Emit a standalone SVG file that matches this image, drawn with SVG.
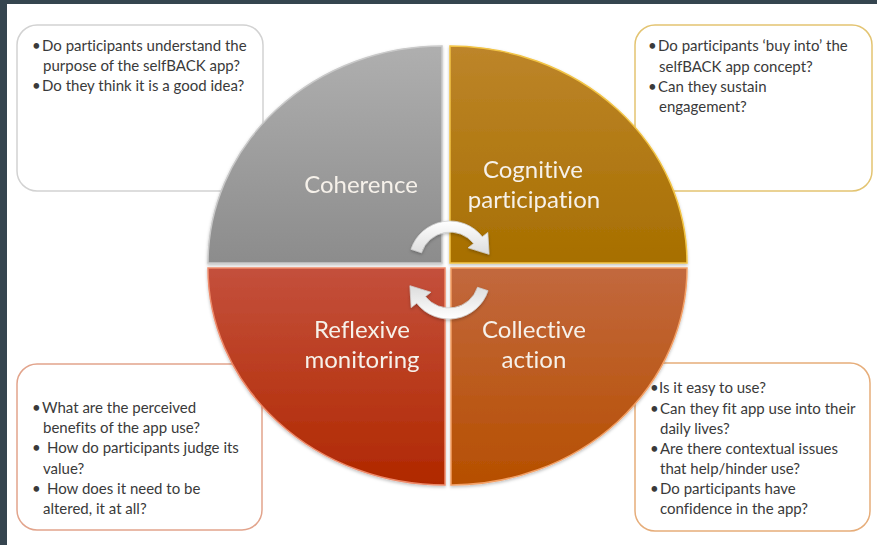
<svg xmlns="http://www.w3.org/2000/svg" width="877" height="545" viewBox="0 0 877 545">
  <defs>
    <style>
      .box { fill: #ffffff; stroke-width: 1.5; }
      .q-label { font-family: "Lato", "Liberation Sans", sans-serif; font-size: 24px; fill: #f6f1ea; text-anchor: middle; font-variant-ligatures: none; font-feature-settings: "liga" 0; }
      .note { font-family: "Lato", "Liberation Sans", sans-serif; font-size: 15px; fill: #3a3a3a; font-variant-ligatures: none; font-feature-settings: "liga" 0; }
      .arrow { fill: url(#arrowFill); stroke: #cfcfcf; stroke-width: 0.8; }
    </style>
    <linearGradient id="gGray" x1="0" y1="0" x2="0" y2="1">
      <stop offset="0" stop-color="#afafaf"/>
      <stop offset="1" stop-color="#8c8c8c"/>
    </linearGradient>
    <linearGradient id="gGold" x1="0" y1="0" x2="0" y2="1">
      <stop offset="0" stop-color="#bd852a"/>
      <stop offset="1" stop-color="#a76f00"/>
    </linearGradient>
    <linearGradient id="gRed" x1="0" y1="0" x2="0" y2="1">
      <stop offset="0" stop-color="#c4503c"/>
      <stop offset="1" stop-color="#b02800"/>
    </linearGradient>
    <linearGradient id="gOrange" x1="0" y1="0" x2="0" y2="1">
      <stop offset="0" stop-color="#c2683e"/>
      <stop offset="1" stop-color="#b64f00"/>
    </linearGradient>
    <linearGradient id="arrowFill" x1="0" y1="0" x2="0" y2="1">
      <stop offset="0" stop-color="#ffffff"/>
      <stop offset="1" stop-color="#dcdcdc"/>
    </linearGradient>
    <filter id="soft" x="-10%" y="-10%" width="120%" height="125%">
      <feDropShadow dx="0" dy="1.5" stdDeviation="1.5" flood-color="#000000" flood-opacity="0.25"/>
    </filter>
  </defs>

  <!-- page -->
  <rect x="0" y="0" width="877" height="545" fill="#ffffff"/>
  <rect x="0" y="0" width="877" height="4" fill="#35454f"/>
  <rect x="0" y="0" width="7" height="545" fill="#35454f"/>

  <!-- question boxes -->
  <g id="box-coherence">
    <rect class="box" x="17" y="25" width="246" height="166" rx="20" stroke="#d2d2d2"/>
    <text class="note" x="32" y="51">•</text>
    <text class="note" x="42" y="51">Do participants understand the</text>
    <text class="note" x="43" y="71">purpose of the selfBACK app?</text>
    <text class="note" x="32" y="91">•</text>
    <text class="note" x="42" y="91">Do they think it is a good idea?</text>
  </g>

  <g id="box-cognitive">
    <rect class="box" x="635" y="25" width="237" height="166" rx="20" stroke="#e3c472"/>
    <text class="note" x="648" y="51">•</text>
    <text class="note" x="658" y="51">Do participants ‘buy into’ the</text>
    <text class="note" x="659" y="72">selfBACK app concept?</text>
    <text class="note" x="648" y="92">•</text>
    <text class="note" x="658" y="92">Can they sustain</text>
    <text class="note" x="659" y="112">engagement?</text>
  </g>

  <g id="box-reflexive">
    <rect class="box" x="17" y="364" width="245" height="166" rx="20" stroke="#e2a48c"/>
    <text class="note" x="32" y="413">•</text>
    <text class="note" x="42" y="413">What are the perceived</text>
    <text class="note" x="43" y="433">benefits of the app use?</text>
    <text class="note" x="32" y="453">•</text>
    <text class="note" x="47" y="453">How do participants judge its</text>
    <text class="note" x="43" y="474">value?</text>
    <text class="note" x="32" y="494">•</text>
    <text class="note" x="47" y="494">How does it need to be</text>
    <text class="note" x="43" y="514">altered, it at all?</text>
  </g>

  <g id="box-collective">
    <rect class="box" x="635" y="363" width="235" height="168" rx="20" stroke="#e6ad7a"/>
    <text class="note" x="650" y="393">•</text>
    <text class="note" x="659" y="393">Is it easy to use?</text>
    <text class="note" x="650" y="414">•</text>
    <text class="note" x="660" y="414">Can they fit app use into their</text>
    <text class="note" x="660" y="434">daily lives?</text>
    <text class="note" x="650" y="454">•</text>
    <text class="note" x="660" y="454">Are there contextual issues</text>
    <text class="note" x="660" y="474">that help/hinder use?</text>
    <text class="note" x="650" y="494">•</text>
    <text class="note" x="660" y="494">Do participants have</text>
    <text class="note" x="660" y="514">confidence in the app?</text>
  </g>

  <!-- quadrants of the cycle -->
  <g id="q-coherence" filter="url(#soft)">
    <path d="M 442 263 L 208 263 A 234 217 0 0 1 442 46 Z" fill="url(#gGray)" stroke="#c9c9c9" stroke-width="1.5"/>
    <text class="q-label" x="361" y="193">Coherence</text>
  </g>
  <g id="q-cognitive" filter="url(#soft)">
    <path d="M 450 263 L 450 46 A 237 217 0 0 1 687 263 Z" fill="url(#gGold)" stroke="#f2c445" stroke-width="1.5"/>
    <text class="q-label" x="533" y="178">Cognitive</text>
    <text class="q-label" x="534" y="208">participation</text>
  </g>
  <g id="q-reflexive" filter="url(#soft)">
    <path d="M 445 268 L 445 485 A 237 217 0 0 1 208 268 Z" fill="url(#gRed)" stroke="#ee8a6a" stroke-width="1.5"/>
    <text class="q-label" x="362" y="338">Reflexive</text>
    <text class="q-label" x="362" y="368">monitoring</text>
  </g>
  <g id="q-collective" filter="url(#soft)">
    <path d="M 451 268 L 687 268 A 236 217 0 0 1 451 485 Z" fill="url(#gOrange)" stroke="#f3a066" stroke-width="1.5"/>
    <text class="q-label" x="534" y="338">Collective</text>
    <text class="q-label" x="534" y="368">action</text>
  </g>

  <!-- cycle arrows -->
  <g id="connectors" filter="url(#soft)">
    <path class="arrow" d="M 411 249.3 A 41 41 0 0 1 482.3 236.8 L 487.8 232.4 L 489.1 254.3 L 468.1 247.8 L 473.6 243.5 A 30 30 0 0 0 421.5 252.7 Z"/>
    <path class="arrow" transform="rotate(180 449.5 270)" d="M 411 249.3 A 41 41 0 0 1 482.3 236.8 L 487.8 232.4 L 489.1 254.3 L 468.1 247.8 L 473.6 243.5 A 30 30 0 0 0 421.5 252.7 Z"/>
  </g>
</svg>
